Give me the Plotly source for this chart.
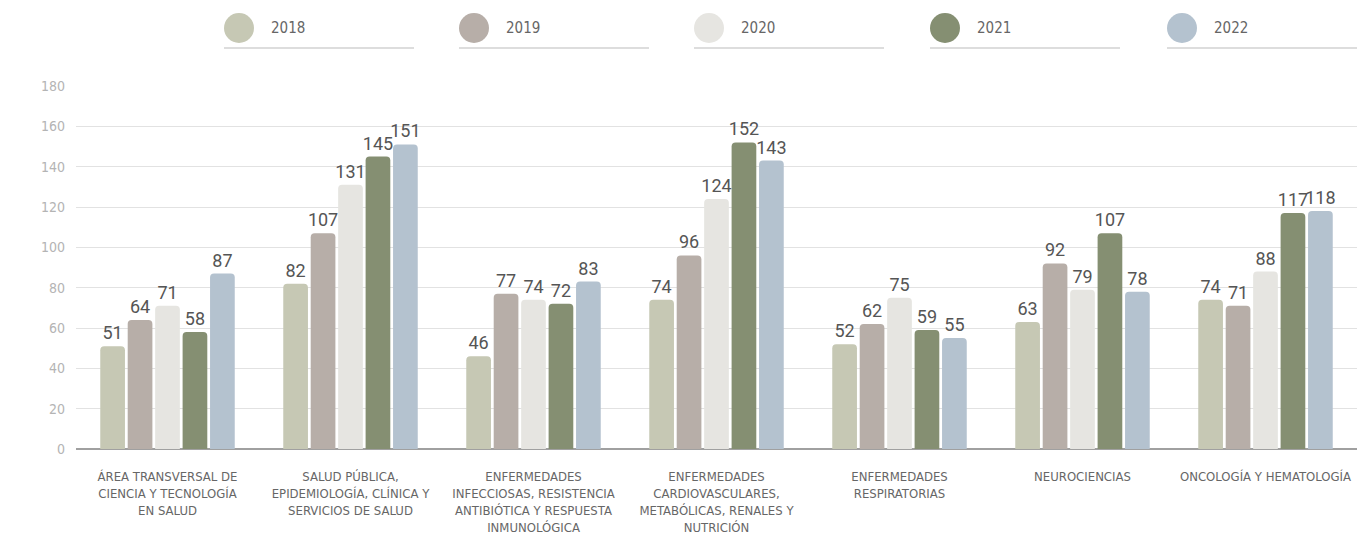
import plotly.graph_objects as go

categories = [
    "ÁREA TRANSVERSAL DE<br>CIENCIA Y TECNOLOGÍA<br>EN SALUD",
    "SALUD PÚBLICA,<br>EPIDEMIOLOGÍA, CLÍNICA Y<br>SERVICIOS DE SALUD",
    "ENFERMEDADES<br>INFECCIOSAS, RESISTENCIA<br>ANTIBIÓTICA Y RESPUESTA<br>INMUNOLÓGICA",
    "ENFERMEDADES<br>CARDIOVASCULARES,<br>METABÓLICAS, RENALES Y<br>NUTRICIÓN",
    "ENFERMEDADES<br>RESPIRATORIAS",
    "NEUROCIENCIAS",
    "ONCOLOGÍA Y HEMATOLOGÍA",
]
years = ["2018", "2019", "2020", "2021", "2022"]
v2018 = [51, 82, 46, 74, 52, 63, 74]
v2019 = [64, 107, 77, 96, 62, 92, 71]
v2020 = [71, 131, 74, 124, 75, 79, 88]
v2021 = [58, 145, 72, 152, 59, 107, 117]
v2022 = [87, 151, 83, 143, 55, 78, 118]
series = [v2018, v2019, v2020, v2021, v2022]
colors = ["#c6c8b4", "#b7aea8", "#e6e5e1", "#858f72", "#b4c2cf"]
y_ticks = list(range(0, 181, 20))

narrow = "DejaVu Sans Condensed, Roboto, sans-serif"

fig = go.Figure()
for name, vals, col in zip(years, series, colors):
    fig.add_trace(go.Bar(
        name=name, x=categories, y=vals, marker_color=col,
        marker_line_width=0,
        text=[str(v) for v in vals], textposition="outside",
        textangle=0, constraintext="none",
        textfont=dict(family="Roboto, sans-serif", size=18, color="#555555"),
        cliponaxis=False,
    ))

# Legend row: circle, year label and underline per series
W = 1369.0
H = 540.0
plot_l, plot_r, plot_t, plot_b = 76, 12, 86, 91
pw = W - plot_l - plot_r
ph = H - plot_t - plot_b

def px_x(x):
    return (x - plot_l) / pw

def px_y(y):
    return (H - plot_b - y) / ph

shapes = []
annotations = []
legend_left = [224, 459, 694, 930, 1167]
for left, name, col in zip(legend_left, years, colors):
    shapes.append(dict(type="circle", xref="paper", yref="paper",
                       x0=px_x(left), x1=px_x(left + 30),
                       y0=px_y(43), y1=px_y(13),
                       fillcolor=col, line_width=0))
    shapes.append(dict(type="line", xref="paper", yref="paper",
                       x0=px_x(left), x1=px_x(left + 190),
                       y0=px_y(48), y1=px_y(48),
                       line=dict(color="#dddddd", width=2)))
    annotations.append(dict(xref="paper", yref="paper",
                            x=px_x(left + 45), y=px_y(28),
                            xanchor="left", yanchor="middle",
                            text=name, showarrow=False,
                            font=dict(family=narrow, size=15, color="#666666")))

fig.update_layout(
    width=1369, height=540,
    margin=dict(l=plot_l, r=plot_r, t=plot_t, b=plot_b, autoexpand=False),
    paper_bgcolor="white", plot_bgcolor="white",
    barmode="group", bargap=0.25, bargroupgap=0.1,
    barcornerradius=4,
    showlegend=False,
    shapes=shapes, annotations=annotations,
    xaxis=dict(
        tickfont=dict(family=narrow, size=13, color="#666666"),
        showline=False, ticks="", showgrid=False,
        tickangle=0, automargin=False,
        ticklabelstandoff=18,
    ),
    yaxis=dict(
        range=[0, 180], tickvals=y_ticks,
        tickfont=dict(family=narrow, size=14, color="#b4b4b4"),
        showgrid=True, gridcolor="#e2e2e2", gridwidth=1,
        zeroline=True, zerolinecolor="#a0a0a0", zerolinewidth=2,
        ticks="", ticklabelstandoff=10, automargin=False,
    ),
)

fig.write_html("out.html")
